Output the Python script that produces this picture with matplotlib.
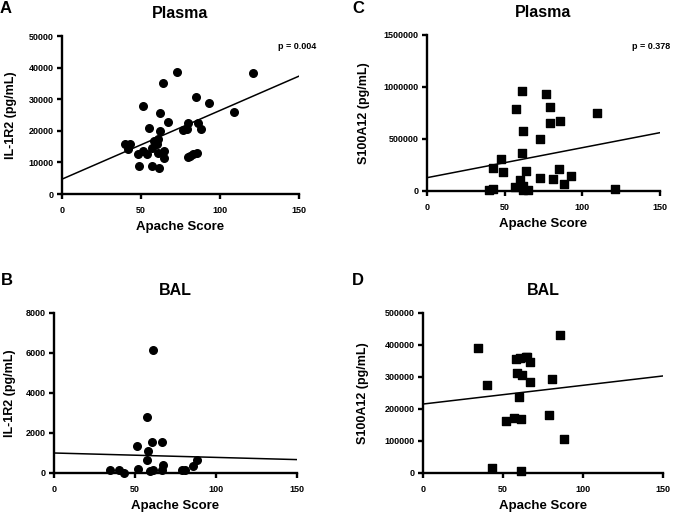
import matplotlib
matplotlib.use('Agg')
import matplotlib.pyplot as plt
from matplotlib.ticker import FormatStrFormatter
import numpy as np

plt.rcParams['font.family'] = ['Liberation Sans', 'DejaVu Sans']
plt.rcParams['font.weight'] = 'bold'

# Panel A - plasma IL-1R2
a_x = [40, 42.9, 41.7, 48, 49, 51.1, 51.1, 53.7, 55.1, 56.8, 56.8, 58.3, 60, 61,
       62.1, 62.1, 61, 61.2, 64, 64.8, 64.8, 66.9, 73, 76.8, 78.9, 80, 81.2, 82.8,
       85.3, 80, 84.8, 86.3, 88, 93, 109, 121]
a_y = [15800, 15800, 14200, 12800, 9000, 28000, 13700, 12800, 21000, 9000, 14400,
       16800, 15800, 17500, 25500, 19900, 13000, 8100, 35000, 13700, 11300, 22800,
       38700, 20200, 20500, 11800, 12000, 12600, 12900, 22600, 30800, 22500, 20500,
       28800, 25800, 38300]
a_fit = [4700, 37300]

# Panel B - BAL IL-1R2
b_x = [34.5, 40.2, 43.3, 52, 51.4, 57.1, 58.2, 57.1, 60.2, 66.4, 61.3, 59.2, 61.3,
       66.4, 67.5, 78.8, 80.9, 86, 88.1]
b_y = [130, 130, 0, 220, 1360, 2780, 1090, 640, 1560, 1560, 6150, 90, 170, 130,
       380, 130, 130, 350, 640]
b_fit = [1000, 670]

# Panel C - plasma S100A12
c_x = [39.8, 42.6, 42.3, 47.9, 48.8, 57.6, 56.5, 59.7, 61.3, 61.0, 61.5, 61.9, 62.1,
       64, 65.3, 72.9, 72.9, 76.9, 79.1, 79.1, 81.2, 85.5, 85.3, 88.1, 93, 109.2,
       121.2]
c_y = [5000, 22000, 218000, 311000, 183000, 785000, 38000, 103000, 961000, 365000,
       6000, 577000, 45000, 192000, 6000, 503000, 125000, 936000, 808000, 657000,
       118000, 673000, 215000, 70000, 144000, 750000, 16000]
c_fit = [128000, 561000]

# Panel D - BAL S100A12
d_x = [34.1, 39.9, 43, 52.1, 56.9, 58, 59, 59.8, 60.9, 61.3, 61.1, 62.1, 64.2, 65.2,
       66.9, 66.9, 79, 80.8, 85.6, 88.1]
d_y = [390000, 274000, 14600, 163000, 172600, 356700, 313800, 236400, 358800,
       168400, 7300, 306500, 362000, 362000, 348300, 284500, 181000, 295000,
       432000, 106700]
d_fit = [215500, 303300]

fit_x = [0, 150]

W, H = 685, 513
fig = plt.figure(figsize=(W / 100, H / 100), dpi=100)


def px_axes(left, right, top, bottom):
    return fig.add_axes([left / W, 1 - bottom / H, (right - left) / W, (bottom - top) / H])


def style(ax, ymax, ystep, ylab, title, ylab_x):
    for s in ['top', 'right']:
        ax.spines[s].set_visible(False)
    for s in ['left', 'bottom']:
        ax.spines[s].set_linewidth(1.7)
    ax.set_xlim(0, 150)
    ax.set_ylim(0, ymax)
    ax.set_xticks([0, 50, 100, 150])
    ax.set_yticks(np.arange(0, ymax + 1, ystep))
    ax.yaxis.set_major_formatter(FormatStrFormatter('%d'))
    ax.tick_params(axis='both', direction='out', length=3.5, width=1.7, labelsize=6.5)
    ax.tick_params(axis='x', pad=5)
    ax.tick_params(axis='y', pad=2.5)
    for lab in ax.get_xticklabels() + ax.get_yticklabels():
        lab.set_fontweight('bold')
    ax.set_xlabel('Apache Score', fontsize=9.5, fontweight='bold')
    ax.set_ylabel(ylab, fontsize=9, fontweight='bold')
    ax.xaxis.set_label_coords(0.5, -0.17)
    ax.yaxis.set_label_coords(ylab_x, 0.5)
    ax.set_title(title, fontsize=11.5, fontweight='bold', pad=13)


axA = px_axes(62, 299, 36, 194)
axA.scatter(a_x, a_y, s=30, marker='o', color='black', clip_on=False, zorder=3)
axA.plot(fit_x, a_fit, color='black', lw=1.1)
style(axA, 50000, 10000, 'IL-1R2 (pg/mL)', 'Plasma', -0.19)

axC = px_axes(427, 660, 35, 191)
axC.scatter(c_x, c_y, s=28, marker='s', color='black', clip_on=False, zorder=3)
axC.plot(fit_x, c_fit, color='black', lw=1.1)
style(axC, 1500000, 500000, 'S100A12 (pg/mL)', 'Plasma', -0.245)

axB = px_axes(54, 297, 313, 473)
axB.scatter(b_x, b_y, s=30, marker='o', color='black', clip_on=False, zorder=3)
axB.plot(fit_x, b_fit, color='black', lw=1.1)
style(axB, 8000, 2000, 'IL-1R2 (pg/mL)', 'BAL', -0.155)

axD = px_axes(423, 663, 313, 473)
axD.scatter(d_x, d_y, s=28, marker='s', color='black', clip_on=False, zorder=3)
axD.plot(fit_x, d_fit, color='black', lw=1.1)
style(axD, 500000, 100000, 'S100A12 (pg/mL)', 'BAL', -0.227)

# p values
fig.text(278 / W, 1 - 47 / H, 'p = 0.004', fontsize=6.5, fontweight='bold', va='center', ha='left')
fig.text(632 / W, 1 - 47 / H, 'p = 0.378', fontsize=6.5, fontweight='bold', va='center', ha='left')

# panel letters
for lbl, x, y in [('A', 0, 1), ('C', 352, 1), ('B', 1, 273), ('D', 352, 273)]:
    fig.text(x / W, 1 - y / H, lbl, fontsize=12, fontweight='bold', va='top', ha='left')

fig.savefig('out.png', dpi=100)
